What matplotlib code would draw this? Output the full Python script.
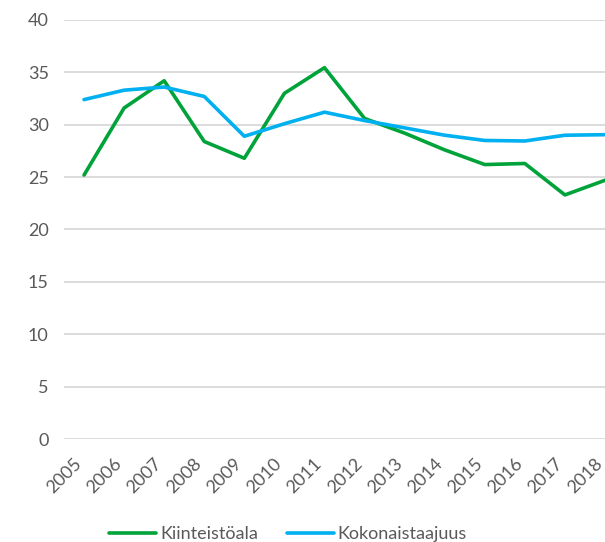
import matplotlib
matplotlib.use('Agg')
import matplotlib.pyplot as plt
import matplotlib.transforms as mtransforms

plt.rcParams['font.family'] = ['Lato', 'DejaVu Sans']

# data
years = ['2005', '2006', '2007', '2008', '2009', '2010', '2011',
         '2012', '2013', '2014', '2015', '2016', '2017', '2018']
kiinteistoala = [25.2, 31.6, 34.2, 28.4, 26.8, 33.0, 35.45,
                 30.6, 29.2, 27.6, 26.2, 26.3, 23.3, 24.7]
kokonaistaajuus = [32.4, 33.3, 33.6, 32.7, 28.9, 30.1, 31.2,
                   30.4, 29.7, 29.0, 28.5, 28.45, 29.0, 29.05]
yticks = [0, 5, 10, 15, 20, 25, 30, 35, 40]

GREEN = '#00A33A'
BLUE = '#00B0F0'
GRID = '#D9D9D9'
TEXT = '#595959'

fig = plt.figure(figsize=(6.05, 5.42), dpi=100)
ax = fig.add_axes([64 / 605, 103 / 542, 541 / 605, 419 / 542])

x = list(range(len(years)))
ax.plot(x, kiinteistoala, color=GREEN, linewidth=2.6, label='Kiinteistöala',
        solid_capstyle='round', zorder=3)
ax.plot(x, kokonaistaajuus, color=BLUE, linewidth=2.6, label='Kokonaistaajuus',
        solid_capstyle='round', zorder=3)

ax.set_xlim(-0.5, 13.0)
ax.set_ylim(0, 40)
ax.set_yticks(yticks)
ax.set_xticks(x)
ax.set_xticklabels(years, rotation=45, ha='right', va='center',
                   rotation_mode='anchor')
ax.tick_params(axis='both', length=0, labelsize=13, colors=TEXT)
ax.tick_params(axis='y', pad=11)
ax.tick_params(axis='x', pad=16)
# nudge the slanted year labels left so their ends sit under the points
shift = mtransforms.ScaledTranslation(-5 / 100, 0, fig.dpi_scale_trans)
for lbl in ax.get_xticklabels():
    lbl.set_transform(lbl.get_transform() + shift)
ax.grid(axis='y', color=GRID, linewidth=1.3)
ax.set_axisbelow(True)
for s in ax.spines.values():
    s.set_visible(False)

fig.legend(loc='center', bbox_to_anchor=(0.476, 0.015), ncol=2, frameon=False,
           fontsize=13, handlelength=2.6, handletextpad=0.2, columnspacing=1.6,
           labelcolor=TEXT)

fig.savefig('out.png', dpi=100)
